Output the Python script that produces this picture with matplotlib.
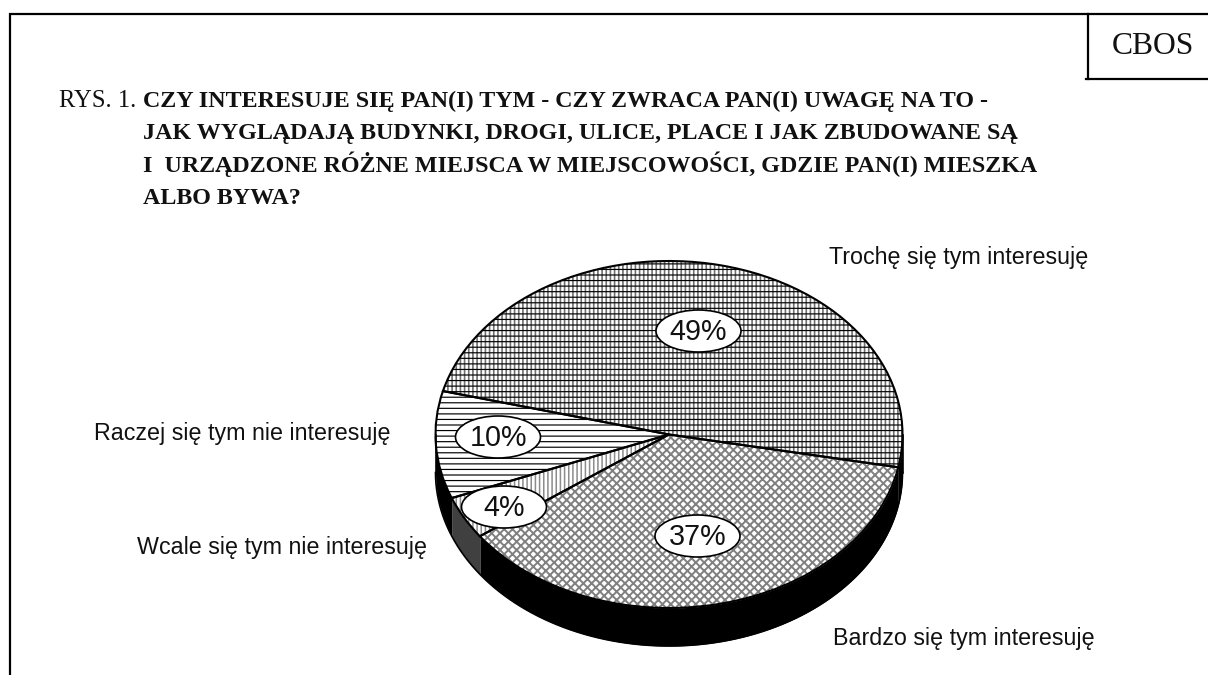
import numpy as np
import matplotlib
matplotlib.use("Agg")
import matplotlib.pyplot as plt
from matplotlib.patches import Ellipse

# --- data ---
categories = ["Trochę się tym interesuję", "Bardzo się tym interesuję",
              "Wcale się tym nie interesuję", "Raczej się tym nie interesuję"]
values = [49, 37, 4, 10]
pct_labels = ["49%", "37%", "4%", "10%"]
start_angle = 165.5

# --- styles ---
W, H = 1208, 675
CX, CY, RX, RY, DEPTH = 669.0, 434.5, 233.5, 173.5, 38.0
hatch_a = ["||||", "xxxx", "||||", "---"]
color_a = ["#707070", "#808080", "#8c8c8c", "black"]
hatch_lw = [1.2, 1.4, 1.1, 0.85]
hatch_b = ["---", None, None, None]
side_colors = ["black", "black", "#404040", "black"]
label_xy = [(829, 264), (833, 645), (137, 554), (94, 440)]
bubble_xy = [(698.5, 331), (697.5, 536), (504, 507), (498, 437)]

plt.rcParams["hatch.linewidth"] = 0.85
fig = plt.figure(figsize=(W / 100, H / 100), dpi=100, facecolor="white")

ax = fig.add_axes([0, 0, 1, 1], zorder=1)
ax.patch.set_alpha(0)

def pie_layer(hatches, colors, face, lws=None):
    wedges, _ = ax.pie(values, startangle=start_angle, counterclock=False,
                       radius=1, hatch=hatches,
                       wedgeprops=dict(facecolor=face, linewidth=0))
    for i, (w, c) in enumerate(zip(wedges, colors)):
        w.set_edgecolor(c)
        w.set_linewidth(0)
        if lws is not None and hasattr(w, "set_hatch_linewidth"):
            w.set_hatch_linewidth(lws[i])
    return wedges

# side of the pie
cum = start_angle - np.cumsum([0] + values) * 3.6
for a1, a0, col in zip(cum[:-1], cum[1:], side_colors):
    for shift in (0, -360):
        lo, hi = max(a0 + shift, -180), min(a1 + shift, 0)
        if hi > lo:
            t = np.radians(np.linspace(lo, hi, 120))
            ax.fill_between(np.cos(t), np.sin(t), np.sin(t) - DEPTH / RY,
                            color=col, linewidth=0, zorder=0)
t = np.radians(np.linspace(-180, 0, 300))
ax.plot(np.cos(t), np.sin(t) - DEPTH / RY, color="black", lw=1.2, zorder=5)
for xs in (-1, 1):
    ax.plot([xs, xs], [0, -DEPTH / RY], color="black", lw=1.2, zorder=5)

pie_layer(hatch_a, color_a, "white", hatch_lw)
pie_layer(hatch_b, ["black"] * 4, "none", [0.85] * 4)
ax.pie(values, startangle=start_angle, counterclock=False, radius=1,
       wedgeprops=dict(facecolor="none", edgecolor="black", linewidth=1.5))
ax.set_aspect("auto")
ax.set_xlim(-CX / RX, (W - CX) / RX)
ax.set_ylim(-(H - CY) / RY, CY / RY)
ax.axis("off")

# top overlay in pixel coordinates
top = fig.add_axes([0, 0, 1, 1], zorder=2)
top.patch.set_alpha(0)
top.set_xlim(0, W); top.set_ylim(H, 0); top.axis("off")

# frame
frame_lw = 1.6
top.plot([10, 10, W], [H, 14, 14], color="black", lw=frame_lw, solid_joinstyle="miter")
top.plot([1088, 1088], [14, 79], color="black", lw=frame_lw)
top.plot([1086, W], [79, 79], color="black", lw=frame_lw)
top.text(1153, 46, "CBOS", family="Liberation Serif", fontsize=22.8,
         ha="center", va="center", color="#111111")

# title
serif = dict(family="Liberation Serif", fontsize=17.3, color="#111111", va="baseline")
top.text(59, 107, "RYS. 1.", **{**serif, "fontsize": 17.7})
title_lines = [
    (143, 107, "CZY INTERESUJE SIĘ PAN(I) TYM - CZY ZWRACA PAN(I) UWAGĘ NA TO -"),
    (143, 139, "JAK WYGLĄDAJĄ BUDYNKI, DROGI, ULICE, PLACE I JAK ZBUDOWANE SĄ"),
    (143, 172, "I  URZĄDZONE RÓŻNE MIEJSCA W MIEJSCOWOŚCI, GDZIE PAN(I) MIESZKA"),
    (143, 204, "ALBO BYWA?"),
]
for x, y, s in title_lines:
    top.text(x, y, s, fontweight="bold", **serif)

# outside labels
for (x, y), s in zip(label_xy, categories):
    top.text(x, y, s, family="Liberation Sans", fontsize=16.75, color="#111111", va="baseline")

# percentage bubbles
for (x, y), s in zip(bubble_xy, pct_labels):
    top.add_patch(Ellipse((x, y), 85, 42, facecolor="white", edgecolor="black", lw=1.2))
    top.text(x, y + 1, s, family="Liberation Sans", fontsize=20.7, color="#111111",
             ha="center", va="center")

fig.savefig("out.png", dpi=100, facecolor="white")
